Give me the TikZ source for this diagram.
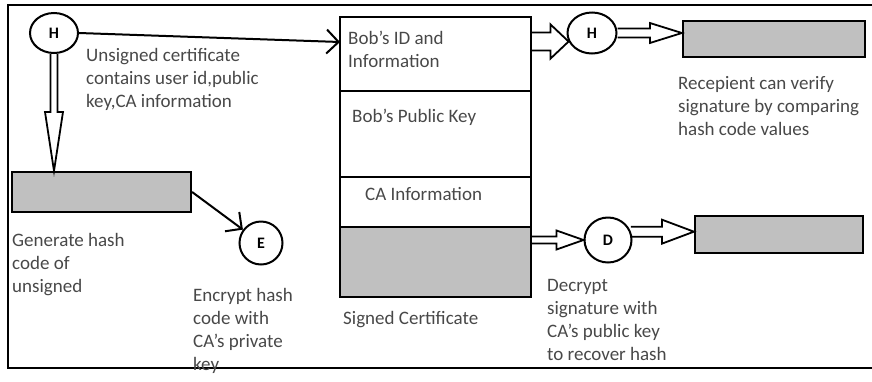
\documentclass[tikz,border=0pt]{standalone}
\usepackage{fontspec}
\setmainfont{Carlito}
\usepackage{tikz}
\usetikzlibrary{arrows.meta,calc,shapes.geometric,positioning}
\definecolor{ColBox}{RGB}{192,192,192}
\definecolor{ColTxt}{RGB}{72,72,72}
\tikzstyle{NodeCirc}=[ellipse,draw,line width=2pt,inner sep=0pt,
font=\fontsize{16}{18}\selectfont\bfseries]
\tikzstyle{GrayBox}=[rectangle,draw,line width=2.2pt,fill=ColBox,inner sep=0pt]
\tikzstyle{CertPart}=[rectangle,draw,line width=2pt,minimum width=191pt,
inner sep=0pt,outer sep=0pt,anchor=north west]
\tikzstyle{Lbl}=[anchor=north west,inner sep=0pt,align=left,text=ColTxt,
font=\fontsize{19}{23}\selectfont]
\tikzstyle{EdgeLine}=[line width=2pt,-{Straight Barb[length=12pt,width=24pt,line width=2pt]}]
\tikzset{Hollow/.style n args={3}{line width=1.8pt,line join=miter,
  to path={let \p1=($(\tikztotarget)-(\tikztostart)$),\n1={atan2(\y1,\x1)},
    \n2={veclen(\x1,\y1)} in
    ($(\tikztostart)+(\n1+90:#1)$) -- ++(\n1:\n2-#3) -- ++(\n1+90:#2-#1)
    -- (\tikztotarget) -- ($(\tikztotarget)+(\n1+180:#3)+(\n1-90:#2)$)
    -- ++(\n1+90:#2-#1) -- ++(\n1+180:\n2-#3)}}}

\begin{document}
\begin{tikzpicture}[x=1pt,y=-1pt]
        \useasboundingbox(0,0)rectangle(872,381);
        \draw[line width=1.5pt](872,5)--(8,5)--(8,368)--(872,368);
        % left: hashing and signing
        \node[NodeCirc,minimum width=48pt,minimum height=40pt](hl)at(54,33){H};
        \node[GrayBox,minimum width=179pt,minimum height=40pt](lbox)at(101.5,192){};
        \node[NodeCirc,minimum width=43pt,minimum height=43pt](enc)at(261,243){E};
        % the certificate
        \node[CertPart,minimum height=74pt](idsec)at(340,17){};
        \node[CertPart,minimum height=86pt,below=0pt of idsec.south west,anchor=north west](keysec){};
        \node[CertPart,minimum height=50pt,below=0pt of keysec.south west,anchor=north west](casec){};
        \node[CertPart,minimum height=70pt,fill=ColBox,below=0pt of casec.south west,anchor=north west](sigsec){};
        % right: verification
        \node[NodeCirc,minimum width=49pt,minimum height=41pt](hr)at(592,33){H};
        \node[GrayBox,minimum width=182pt,minimum height=36pt](rtop)at(774,39){};
        \node[NodeCirc,minimum width=47pt,minimum height=45pt](dec)at(608,240){D};
        \node[GrayBox,minimum width=168pt,minimum height=37pt](rbot)at(779,234.5){};
        % texts
        \node[Lbl](unsig)at(86,48){Unsigned certificate\\contains user id,public\\key,CA information};
        \node[Lbl](genh)at(12,233){Generate hash\\code of\\unsigned};
        \node[Lbl](encr)at(193,288){Encrypt hash\\code with\\CA's private\\key};
        \node[Lbl](idtxt)at(348,31){Bob's ID and\\Information};
        \node[Lbl](keytxt)at(352,109){Bob's Public Key};
        \node[Lbl](catxt)at(365,187){CA Information};
        \node[Lbl](signtxt)at(343,311){Signed Certificate};
        \node[Lbl](rcpt)at(678,76){Recepient can verify\\signature by comparing\\hash code values};
        \node[Lbl](decr)at(547,279){Decrypt\\signature with\\CA's public key\\to recover hash};
        % connectors
        \draw[EdgeLine](hl.east)--([yshift=12pt]idsec.west);
        \draw[EdgeLine](lbox.east)--(enc);
        \draw[Hollow={3.5pt}{9pt}{59pt}](hl.south)to(hl.south|-lbox.north);
        \draw[Hollow={9pt}{17pt}{18pt}](idsec.east|-hr.200)to(hr.200);
        \draw[Hollow={4.5pt}{10pt}{32pt}](hr.east)to(rtop.west|-hr.east);
        \draw[Hollow={3.5pt}{9.5pt}{27pt}](sigsec.east|-dec.west)to(dec.west);
        \draw[Hollow={5pt}{12pt}{32pt}](dec.20)to(rbot.west|-dec.20);
    \end{tikzpicture}
\end{document}
